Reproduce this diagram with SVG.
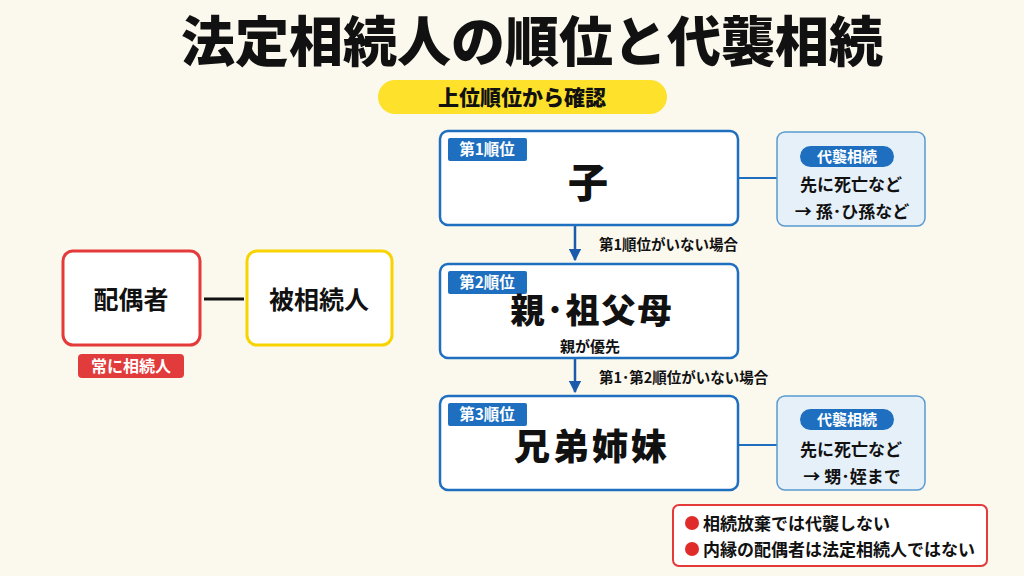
<svg xmlns="http://www.w3.org/2000/svg" width="1024" height="576" viewBox="0 0 1024 576">
<defs>
<style>
text{font-family:"Noto Sans CJK JP","Noto Sans",sans-serif;font-weight:700;fill:#111;}
.main{fill:#fff;stroke:#1e6fbf;stroke-width:2.5;}
.tag{fill:#1e6fbf;}
.tagt{fill:#fff;font-size:15.5px;}
.side{fill:#e6f0f9;stroke:#5a9ad0;stroke-width:1.5;}
.pill{fill:#1e6fbf;}
.sidet{font-size:17px;}
.conn{stroke:#1e6fbf;stroke-width:2;fill:none;}
.arr{stroke:#1a5cab;stroke-width:2.5;fill:none;}
.lbl{font-size:14.5px;}
</style>
<marker id="ah" viewBox="0 0 10 10" refX="9" refY="5" markerWidth="5" markerHeight="5" orient="auto-start-reverse">
<path d="M0,0 L10,5 L0,10 z" fill="#1a5cab"/>
</marker>
</defs>
<rect width="1024" height="576" fill="#fbf8ee"/>
<g id="title">
<text x="532" y="62" text-anchor="middle" style="font-size:54px;font-weight:900;">法定相続人の順位と代襲相続</text>
</g>
<g id="subtitle">
<rect x="378" y="80" width="289" height="34" rx="17" fill="#fde12a"/>
<text x="522" y="105" text-anchor="middle" style="font-size:21px;font-weight:900;">上位順位から確認</text>
</g>
<g id="connectors">
<line x1="204" y1="299" x2="244" y2="299" stroke="#111" stroke-width="3"/>
<line class="conn" x1="738" y1="178" x2="777" y2="178"/>
<line class="conn" x1="738" y1="445" x2="777" y2="445"/>
<line class="arr" x1="575" y1="226" x2="575" y2="260" marker-end="url(#ah)"/>
<text class="lbl" x="599" y="250">第1順位がいない場合</text>
<line class="arr" x1="575" y1="359" x2="575" y2="392" marker-end="url(#ah)"/>
<text class="lbl" x="599" y="383">第1･第2順位がいない場合</text>
</g>
<g id="spouse">
<rect x="63" y="251" width="137" height="94" rx="10" fill="#fff" stroke="#e53a3a" stroke-width="3"/>
<text x="131" y="309" text-anchor="middle" style="font-size:25px;">配偶者</text>
<rect x="78" y="354" width="106" height="24" rx="4" fill="#e23b3b"/>
<text x="131" y="372" text-anchor="middle" style="font-size:16px;fill:#fff;">常に相続人</text>
</g>
<g id="decedent">
<rect x="247" y="251" width="145" height="94" rx="10" fill="#fff" stroke="#f7d400" stroke-width="3"/>
<text x="319" y="309" text-anchor="middle" style="font-size:25px;">被相続人</text>
</g>
<g id="rank1">
<rect class="main" x="440" y="131" width="298" height="94" rx="8"/>
<rect class="tag" x="448" y="138" width="79" height="23" rx="2"/>
<text class="tagt" x="487" y="155" text-anchor="middle">第1順位</text>
<text x="588" y="197" text-anchor="middle" style="font-size:40px;font-weight:900;">子</text>
</g>
<g id="rank2">
<rect class="main" x="440" y="264" width="298" height="94" rx="8"/>
<rect class="tag" x="448" y="271" width="79" height="23" rx="2"/>
<text class="tagt" x="487" y="288" text-anchor="middle">第2順位</text>
<text x="592" y="323" text-anchor="middle" style="font-size:34px;font-weight:900;letter-spacing:2px;">親･祖父母</text>
<text x="590" y="352" text-anchor="middle" style="font-size:15px;">親が優先</text>
</g>
<g id="rank3">
<rect class="main" x="440" y="396" width="298" height="94" rx="8"/>
<rect class="tag" x="448" y="403" width="79" height="23" rx="2"/>
<text class="tagt" x="487" y="420" text-anchor="middle">第3順位</text>
<text x="592" y="460" text-anchor="middle" style="font-size:36px;font-weight:900;letter-spacing:3px;">兄弟姉妹</text>
</g>
<g id="side1">
<rect class="side" x="777" y="132" width="148" height="94" rx="8"/>
<rect class="pill" x="800" y="146" width="94" height="21" rx="10.5"/>
<text x="847" y="162" text-anchor="middle" style="font-size:15px;fill:#fff;">代襲相続</text>
<text class="sidet" x="851" y="191" text-anchor="middle">先に死亡など</text>
<text class="sidet" x="852" y="218" text-anchor="middle">→ 孫･ひ孫など</text>
</g>
<g id="side3">
<rect class="side" x="777" y="396" width="148" height="94" rx="8"/>
<rect class="pill" x="800" y="409" width="94" height="21" rx="10.5"/>
<text x="847" y="425" text-anchor="middle" style="font-size:15px;fill:#fff;">代襲相続</text>
<text class="sidet" x="851" y="456" text-anchor="middle">先に死亡など</text>
<text class="sidet" x="852" y="483" text-anchor="middle">→ 甥･姪まで</text>
</g>
<g id="notes">
<rect x="673" y="505" width="314" height="61" rx="6" fill="#fff" stroke="#e53a3a" stroke-width="2"/>
<circle cx="692" cy="523" r="7" fill="#e02b2b"/>
<text x="703" y="530" style="font-size:17px;">相続放棄では代襲しない</text>
<circle cx="692" cy="549" r="7" fill="#e02b2b"/>
<text x="703" y="556" style="font-size:17px;">内縁の配偶者は法定相続人ではない</text>
</g>
</svg>
